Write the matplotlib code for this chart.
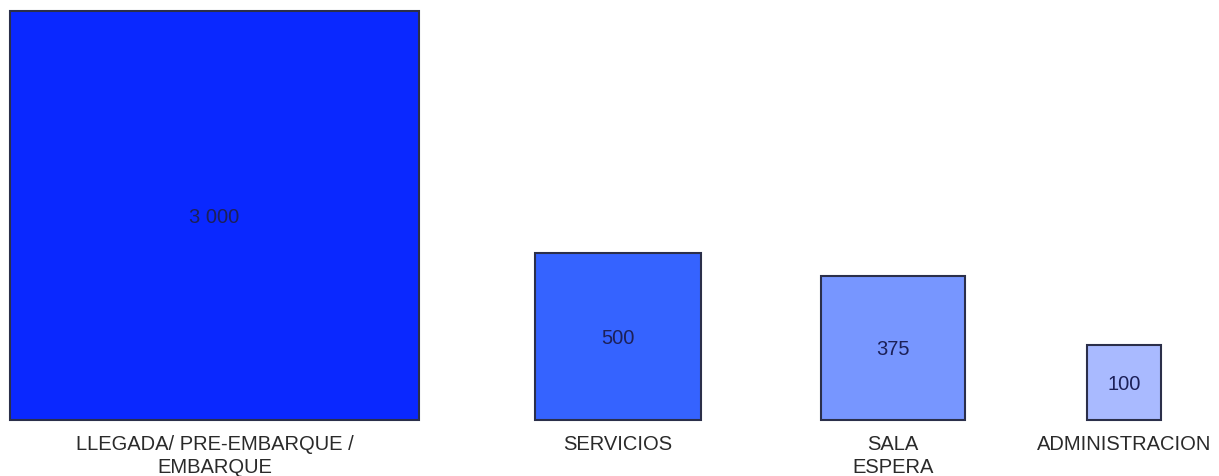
import numpy as np
import matplotlib.pyplot as plt
from matplotlib.patches import Rectangle

categories = ["LLEGADA/ PRE-EMBARQUE /\nEMBARQUE", "SERVICIOS", "SALA\nESPERA", "ADMINISTRACION"]
values = [3000, 500, 375, 100]
value_labels = ["3 000", "500", "375", "100"]
colors = ["#0A28FF", "#3563FF", "#7796FF", "#A9BAFF"]

plt.rcParams['font.family'] = ['Liberation Sans', 'DejaVu Sans']

fig = plt.figure(figsize=(12.19, 4.77), dpi=100)
ax = fig.add_axes([0, 0, 1, 1])
ax.set_xlim(0, 1219)
ax.set_ylim(477, 0)
ax.axis('off')

centers = [214.5, 618, 893, 1124]
baseline = 421
scale = 7.46  # side length per sqrt(unit): square area proportional to value

for cx, v, lab, cat, col in zip(centers, values, value_labels, categories, colors):
    side = scale * np.sqrt(v)
    ax.add_patch(Rectangle((cx - side / 2, baseline - side), side, side,
                           facecolor=col, edgecolor="#2b2f4a", linewidth=1.5))
    ax.text(cx, baseline - side / 2 + 1, lab, ha='center', va='center',
            fontsize=14.5, color="#1c2058")
    ax.text(cx, baseline + 14, cat, ha='center', va='top',
            fontsize=14.5, color="#2a2a2a", linespacing=1.28)

fig.savefig("out.png", dpi=100)
